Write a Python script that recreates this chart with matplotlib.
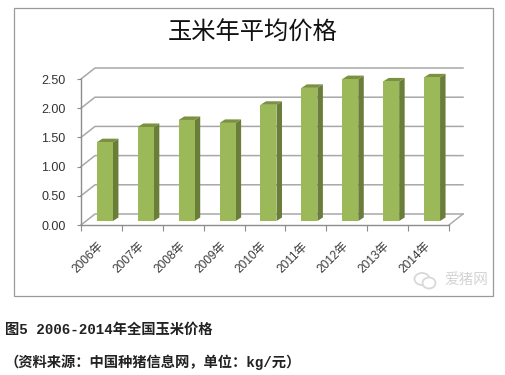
import matplotlib
matplotlib.use("Agg")
import matplotlib.pyplot as plt
from matplotlib.patches import Rectangle, Ellipse, Polygon

years = ["2006年", "2007年", "2008年", "2009年", "2010年", "2011年", "2012年", "2013年", "2014年"]
prices = [1.35, 1.61, 1.73, 1.68, 1.99, 2.28, 2.43, 2.39, 2.46]
y_ticks = [0.0, 0.5, 1.0, 1.5, 2.0, 2.5]
title = "玉米年平均价格"
caption1 = "图5 2006-2014年全国玉米价格"
caption2 = "（资料来源：中国种猪信息网，单位：kg/元）"
watermark = "爱猪网"

W, H = 505, 375
L, R, T, B = 81, 449, 79, 225
CJK = ["Noto Sans CJK SC", "DejaVu Sans"]
SANS = ["Liberation Sans", "Noto Sans CJK SC"]
MONO = ["Liberation Mono", "Noto Sans CJK SC"]

fig = plt.figure(figsize=(W / 100, H / 100), dpi=100, facecolor="white")
ax = fig.add_axes([L / W, 1 - B / H, (R - L) / W, (B - T) / H])
ax.set_xlim(-0.5, 8.5)
ax.set_ylim(0, 2.5)
ax.patch.set_visible(False)
for s in ["top", "right"]:
    ax.spines[s].set_visible(False)
for s in ["left", "bottom"]:
    ax.spines[s].set_color("#8c8c8c")
    ax.spines[s].set_linewidth(1)

# pixel -> data unit factors
ux = 9 / (R - L)
uy = 2.5 / (B - T)
wall_dx, wall_dy = 14 * ux, 11 * uy
grid_c = "#a8a8a8"
for v in y_ticks:
    ax.plot([-0.5, -0.5 + wall_dx, 8.5 + wall_dx], [v, v + wall_dy, v + wall_dy],
            color=grid_c, lw=1.1, clip_on=False, zorder=1)
ax.plot([8.5, 8.5 + wall_dx], [0, wall_dy], color=grid_c, lw=1.0, clip_on=False, zorder=1)

# 3D-looking bars
bar_w = 16 * ux
off_x = 3.5 * ux
base = 4 * uy
dx, dy = 5.5 * ux, 3.5 * uy
front, side, top = "#9bb958", "#6a7d39", "#7c9042"
for i, v in enumerate(prices):
    x0 = i + off_x - bar_w / 2
    x1 = x0 + bar_w
    yt = v + base
    ax.add_patch(Polygon([(x1, base), (x1 + dx, base + dy), (x1 + dx, yt + dy), (x1, yt)],
                         fc=side, ec="none", clip_on=False, zorder=3))
    ax.add_patch(Polygon([(x0, yt), (x0 + dx, yt + dy), (x1 + dx, yt + dy), (x1, yt)],
                         fc=top, ec="none", clip_on=False, zorder=3))
    ax.bar(i + off_x, v, width=bar_w, bottom=base, color=front, edgecolor="none",
           clip_on=False, zorder=4)

ax.set_yticks(y_ticks)
ax.set_yticklabels([f"{v:.2f}" for v in y_ticks], family=SANS, fontsize=9, color="#333333")
ax.set_xticks([i - 0.5 for i in range(10)])
ax.set_xticklabels([])
ax.tick_params(axis="y", length=3, color="#8c8c8c", pad=8)
ax.tick_params(axis="x", length=4, color="#8c8c8c")


def fx(x):
    return x / W


def fy(y):
    return 1 - y / H


for i, lab in enumerate(years):
    px = L + (R - L) * (i + 0.5) / 9 - 4
    fig.text(fx(px), fy(240), lab, rotation=45, rotation_mode="anchor", ha="right", va="top",
             family=SANS, fontsize=8.6, color="#3a3a3a")

fig.add_artist(Rectangle((fx(13.5), fy(295.5)), fx(493) - fx(13.5), fy(7.5) - fy(295.5),
                         transform=fig.transFigure, fill=False, ec="#9a9a9a", lw=0.9, zorder=0))

fig.text(fx(253), fy(33), title, ha="center", va="center", family=CJK, fontsize=17.5, color="#111111")

# watermark
fig.add_artist(Ellipse((fx(422), fy(279)), 15 / W, 12 / H, transform=fig.transFigure,
                       fill=False, ec="#d8d8d8", lw=1.3))
fig.add_artist(Ellipse((fx(429), fy(283)), 13 / W, 11 / H, transform=fig.transFigure,
                       fc="white", ec="#d8d8d8", lw=1.3))
fig.text(fx(466), fy(280), watermark, ha="center", va="center", family=CJK, fontsize=10.5, color="#d4d4d4")

fig.text(fx(5), fy(330), caption1, ha="left", va="center", family=MONO, fontsize=10.3,
         fontweight="bold", color="#222222")
fig.text(fx(5), fy(362), caption2, ha="left", va="center", family=MONO, fontsize=10.3,
         fontweight="bold", color="#222222")

fig.savefig("out.png", dpi=100)
